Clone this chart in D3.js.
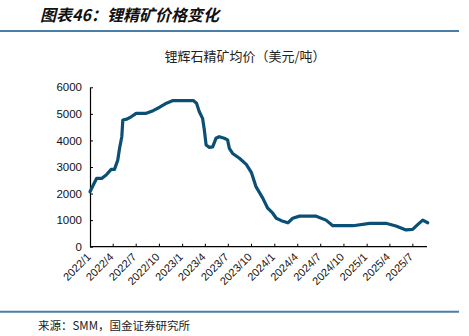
<!DOCTYPE html>
<html>
<head>
<meta charset="utf-8">
<script src="https://cdn.jsdelivr.net/npm/d3@7"></script>
<style>
html,body{margin:0;padding:0;background:#fff;}
svg{display:block;}
</style>
</head>
<body>
<svg id="chart" width="469" height="336"></svg>
<script>
const titleText = "图表46：锂精矿价格变化";
const subtitleText = "锂辉石精矿均价（美元/吨）";
const sourceText = "来源：SMM，国金证券研究所";

const dates = [
"2022-01-01","2022-01-14","2022-01-27","2022-02-16","2022-03-06","2022-03-26","2022-04-08",
"2022-04-21","2022-04-28","2022-05-07","2022-05-11","2022-05-27","2022-06-13","2022-07-03",
"2022-08-12","2022-09-08","2022-10-04","2022-10-31","2022-11-26","2023-02-14","2023-02-27",
"2023-03-10","2023-03-23","2023-03-30","2023-04-06","2023-04-19","2023-05-02","2023-05-15",
"2023-05-28","2023-06-17","2023-06-30","2023-07-07","2023-07-20","2023-08-16","2023-09-12",
"2023-10-02","2023-10-21","2023-11-17","2023-12-06","2023-12-26","2024-01-09","2024-01-29",
"2024-02-24","2024-03-14","2024-04-10","2024-06-15","2024-07-24","2024-08-20","2024-11-08",
"2025-01-13","2025-03-18","2025-04-27","2025-06-06","2025-07-02","2025-07-21","2025-08-11",
"2025-08-31"];
const prices = [
2070,2320,2570,2570,2700,2910,2910,
3260,3700,4140,4770,4800,4890,5020,
5020,5120,5250,5400,5500,5500,5400,
5080,4830,4390,3830,3740,3760,4080,
4140,4080,4020,3700,3510,3330,3100,
2800,2250,1820,1450,1260,1070,980,
900,1070,1150,1150,1000,790,790,
880,880,780,630,650,820,1000,
900];

const yTicks = [0,1000,2000,3000,4000,5000,6000];
const xTickLabels = ["2022/1","2022/4","2022/7","2022/10","2023/1","2023/4","2023/7","2023/10",
"2024/1","2024/4","2024/7","2024/10","2025/1","2025/4","2025/7"];

const parse = d3.timeParse("%Y-%m-%d");
const data = dates.map((d,i)=>({date:parse(d), value:prices[i]}));
const tickDates = xTickLabels.map(s=>{const [y,m]=s.split("/").map(Number); return new Date(y,m-1,1);});

const svg = d3.select("#chart");
const sansCJK = "'Noto Sans CJK SC', 'Noto Sans', sans-serif";
const sansLat = "'Liberation Sans', Arial, sans-serif";

// title
svg.append("text").attr("x",40).attr("y",21)
  .attr("font-family",sansCJK).attr("font-size",16).attr("font-weight","bold")
  .attr("font-style","italic").attr("fill","#111").text(titleText);
svg.append("line").attr("x1",0).attr("x2",459).attr("y1",31).attr("y2",31)
  .attr("stroke","#4a7ea6").attr("stroke-width",2);

// subtitle
svg.append("text").attr("x",245).attr("y",61).attr("text-anchor","middle")
  .attr("font-family",sansCJK).attr("font-size",13).attr("fill","#222").text(subtitleText);

const x = d3.scaleTime().domain([new Date(2022,0,1), new Date(2025,8,1)]).range([90,428]);
const y = d3.scaleLinear().domain([0,6000]).range([246.7,87.3]);

// y axis
const yAxis = svg.append("g").attr("transform","translate(90,0)")
  .call(d3.axisLeft(y).tickValues(yTicks).tickSizeInner(-3).tickSizeOuter(0).tickPadding(8).tickFormat(d3.format("d")));
yAxis.select(".domain").attr("stroke","#000").attr("stroke-width",1.2);
yAxis.selectAll(".tick line").attr("stroke","#000");
yAxis.selectAll("text").attr("font-family",sansLat).attr("font-size",11.5).attr("fill","#111");

// x axis
const xAxis = svg.append("g").attr("transform","translate(0,246.7)")
  .call(d3.axisBottom(x).tickValues(tickDates).tickSizeInner(-3).tickSizeOuter(0)
    .tickFormat((d,i)=>xTickLabels[i]));
xAxis.select(".domain").attr("stroke","#000").attr("stroke-width",1.2)
  .attr("d","M90,0H427");
xAxis.selectAll(".tick line").attr("stroke","#000");
xAxis.selectAll("text").attr("font-family",sansLat).attr("font-size",11).attr("fill","#111")
  .attr("text-anchor","end").attr("dy",null).attr("y",0)
  .attr("transform","translate(1,11) rotate(-45)");

// line
svg.append("path").datum(data)
  .attr("fill","none").attr("stroke","#0b4f74").attr("stroke-width",3.2)
  .attr("stroke-linejoin","round").attr("stroke-linecap","round")
  .attr("d", d3.line().x(d=>x(d.date)).y(d=>y(d.value)));

// bottom
svg.append("line").attr("x1",0).attr("x2",459).attr("y1",311.7).attr("y2",311.7)
  .attr("stroke","#4a7ea6").attr("stroke-width",2);
svg.append("text").attr("x",38).attr("y",330)
  .attr("font-family",sansCJK).attr("font-size",11.5).attr("fill","#222").text(sourceText);
</script>
</body>
</html>
